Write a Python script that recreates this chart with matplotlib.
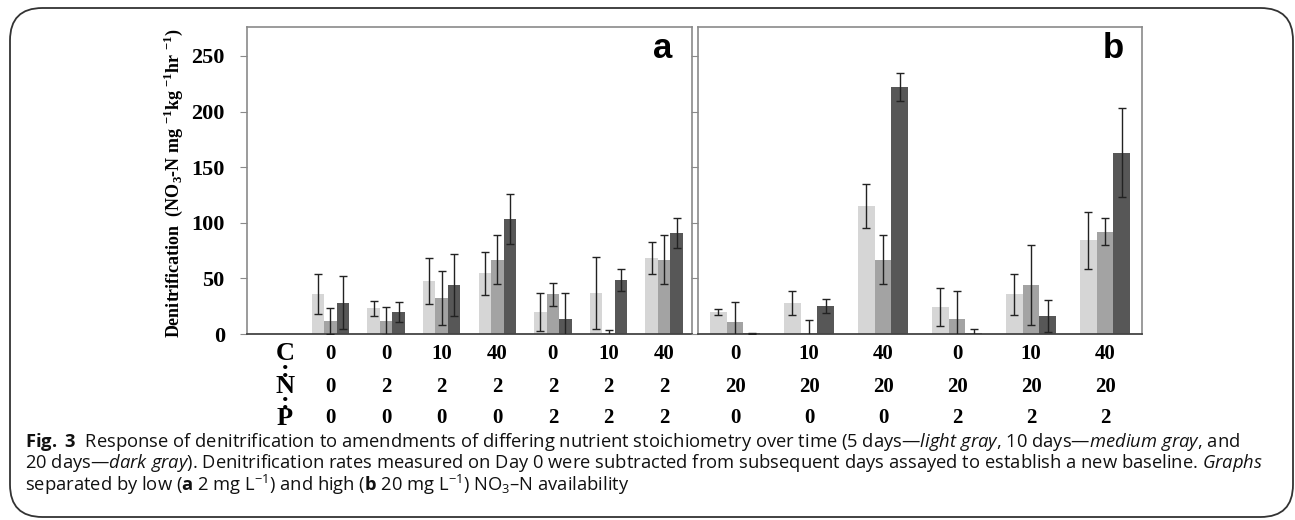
import numpy as np
import matplotlib
matplotlib.use("Agg")
import matplotlib.pyplot as plt
from matplotlib.patches import FancyBboxPatch

# mathtext: caption pieces in a sans face, y-label sub/superscripts via \mathsf in bold serif
plt.rcParams["mathtext.fontset"] = "custom"
plt.rcParams["mathtext.rm"] = "Open Sans"
plt.rcParams["mathtext.it"] = "Open Sans:italic"
plt.rcParams["mathtext.bf"] = "Open Sans:bold"
plt.rcParams["mathtext.sf"] = "Liberation Serif:bold"

# ---- data: panel a (low NO3-N, 2 mg/L) ----
a_C = [0, 0, 10, 40, 0, 10, 40]
a_N = [0, 2, 2, 2, 2, 2, 2]
a_P = [0, 0, 0, 0, 2, 2, 2]
a_day5 = [35.6, 23.0, 47.6, 54.5, 19.5, 36.8, 68.0]
a_day5_err = [18.0, 6.6, 21.0, 19.0, 17.2, 32.0, 14.4]
a_day10 = [11.7, 11.7, 32.6, 66.8, 35.6, 0.6, 66.8]
a_day10_err = [11.5, 12.8, 24.4, 22.0, 10.0, 3.0, 22.0]
a_day20 = [28.1, 19.5, 44.3, 103.3, 13.5, 48.5, 91.0]
a_day20_err = [24.0, 9.0, 28.0, 22.7, 23.0, 9.7, 13.4]

# ---- data: panel b (high NO3-N, 20 mg/L) ----
b_C = [0, 10, 40, 0, 10, 40]
b_N = [20, 20, 20, 20, 20, 20]
b_P = [0, 0, 0, 2, 2, 2]
b_day5 = [19.8, 28.1, 115.0, 24.5, 35.6, 84.1]
b_day5_err = [3.1, 10.8, 19.8, 17.2, 18.4, 25.3]
b_day10 = [10.5, 0.9, 66.8, 13.2, 43.7, 91.9]
b_day10_err = [18.0, 12.0, 22.0, 25.7, 36.0, 12.3]
b_day20 = [0.6, 25.4, 221.9, 0.6, 15.9, 162.9]
b_day20_err = [0.5, 6.4, 12.4, 3.6, 14.3, 39.9]

yticks = [0, 50, 100, 150, 200, 250]

colores = ["#d6d6d6", "#a3a3a3", "#575757"]
serif_b = dict(family="Liberation Serif", weight="bold")

W, H = 1295, 520
fig = plt.figure(figsize=(W / 100, H / 100), dpi=100)

# outer rounded frame
frame = FancyBboxPatch((10 / W, 3 / H), 1283 / W, 509 / H,
                       boxstyle="round,pad=0,rounding_size=0.025",
                       transform=fig.transFigure, facecolor="none",
                       edgecolor="#333333", linewidth=1.3, mutation_aspect=W / H)
fig.patches.append(frame)

ax_a = fig.add_axes([247 / W, (H - 334) / H, 445 / W, 307 / H])
ax_b = fig.add_axes([698 / W, (H - 334) / H, 444 / W, 307 / H])

ancho = 0.225
row_y = {"C": -0.065, "N": -0.173, "P": -0.274}


def panel(ax, C, N, P, series, errs, letra, xlim):
    x = np.arange(len(C))
    for k, (vals, err) in enumerate(zip(series, errs)):
        ax.bar(x + (k - 1) * ancho, vals, ancho, color=colores[k], zorder=2)
        ax.errorbar(x + (k - 1) * ancho, vals, yerr=err, fmt="none",
                    ecolor="#222222", elinewidth=1.0, capsize=3, capthick=1.0, zorder=3)
    ax.set_xlim(*xlim)
    ax.set_ylim(0, 276)
    ax.set_yticks(yticks)
    ax.set_xticks([])
    for s in ["left", "top", "right"]:
        ax.spines[s].set_color("#8a8a8a")
        ax.spines[s].set_linewidth(1.2)
    ax.spines["bottom"].set_color("#444444")
    ax.spines["bottom"].set_linewidth(1.3)
    ax.tick_params(axis="y", direction="out", length=5, color="#8a8a8a", pad=11)
    trans = ax.get_xaxis_transform()
    for xi, c, n, p in zip(x, C, N, P):
        for key, v in (("C", c), ("N", n), ("P", p)):
            ax.text(xi, row_y[key], str(v), transform=trans, ha="center", va="center",
                    fontsize=15, clip_on=False, **serif_b)
    ax.text(0.935, 0.93, letra, transform=ax.transAxes, ha="center", va="center",
            fontsize=25, family="Liberation Sans", weight="bold")


panel(ax_a, a_C, a_N, a_P, [a_day5, a_day10, a_day20],
      [a_day5_err, a_day10_err, a_day20_err], "a", (-1.5, 6.5))
panel(ax_b, b_C, b_N, b_P, [b_day5, b_day10, b_day20],
      [b_day5_err, b_day10_err, b_day20_err], "b", (-0.5, 5.5))

ax_a.set_yticklabels([str(t) for t in yticks], fontsize=16, **serif_b)
ax_b.set_yticklabels([])

# C : N : P header column in panel a's empty first slot (one stacked text)
tr = ax_a.get_xaxis_transform()
ax_a.text(-0.82, -0.17, "C\n:\nN\n:\nP", transform=tr, ha="center", va="center",
          fontsize=19, linespacing=0.62, clip_on=False, **serif_b)

ax_a.set_ylabel(r"Denitrification  (NO$_{\mathsf{3}}$-N mg $^{\mathsf{-1}}$kg $^{\mathsf{-1}}$hr $^{\mathsf{-1}}$)",
                fontsize=13, **serif_b)
ax_a.yaxis.set_label_coords(-0.14, 0.49)

# caption
cap = dict(family="Open Sans", fontsize=13.2, ha="left", va="center", color="#111111")
fig.text(25 / W, 1 - 442 / H,
         r"$\mathbf{Fig.\ 3}$  Response of denitrification to amendments of differing nutrient stoichiometry over time "
         r"(5 days—$\mathit{light\ gray}$, 10 days—$\mathit{medium\ gray}$, and", **cap)
fig.text(25 / W, 1 - 463 / H,
         r"20 days—$\mathit{dark\ gray}$). Denitrification rates measured on Day 0 were subtracted from subsequent "
         r"days assayed to establish a new baseline. $\mathit{Graphs}$", **cap)
fig.text(25 / W, 1 - 485 / H,
         r"separated by low ($\mathbf{a}$ 2 mg L$^{-1}$) and high ($\mathbf{b}$ 20 mg L$^{-1}$) NO$_3$–N availability",
         **cap)

fig.savefig("out.png", dpi=100)
